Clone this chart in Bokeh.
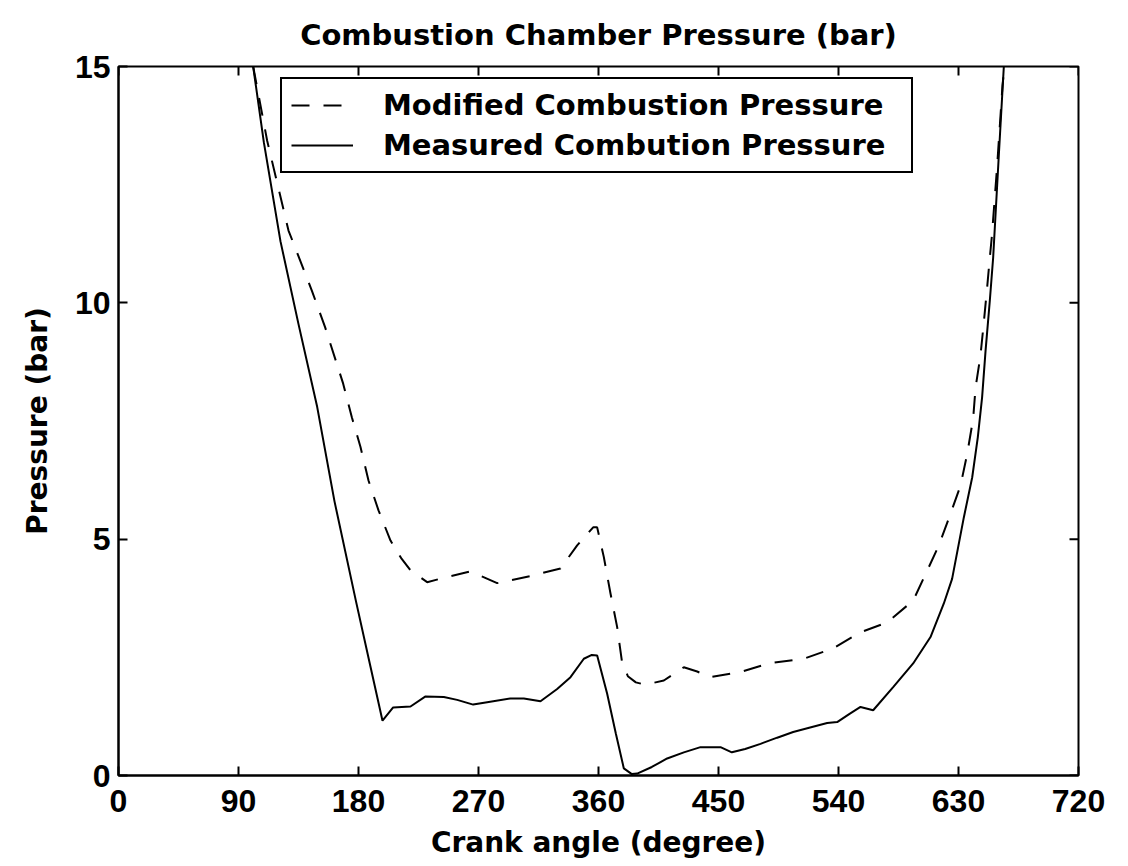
import math
from bokeh.plotting import figure
from bokeh.models import Range1d, FixedTicker, Legend, LegendItem
from bokeh.embed import file_html
from bokeh.resources import INLINE

# Measured combustion pressure (solid)
meas_deg = [101, 109, 121.5, 135, 149, 162, 178, 189, 198, 206, 219, 230, 244, 254, 266, 276.5,
            294, 304, 316.5, 329, 339, 349, 355, 359, 366.5, 373, 379, 385, 389, 400, 411.5,
            424, 436.5, 451.5, 460, 470, 481.5, 494, 506, 518, 531.5, 539, 548, 556.5, 566,
            581, 596, 609, 619, 625.2, 634, 640.3, 644.5, 647.7, 650.3, 653.5, 656, 660, 664]
meas_bar = [15.0, 13.4, 11.3, 9.55, 7.8, 5.8, 3.7, 2.3, 1.16, 1.44, 1.46, 1.67, 1.66, 1.60, 1.50, 1.55,
            1.63, 1.63, 1.57, 1.83, 2.08, 2.47, 2.55, 2.54, 1.73, 0.89, 0.15, 0.03, 0.04, 0.18, 0.36,
            0.49, 0.60, 0.60, 0.49, 0.56, 0.67, 0.80, 0.92, 1.01, 1.11, 1.13, 1.30, 1.45, 1.38,
            1.87, 2.37, 2.93, 3.64, 4.16, 5.46, 6.31, 7.16, 8.0, 8.99, 10.05, 10.96, 13.0, 15.0]

# Modified combustion pressure (dashed)
mod_deg = [101, 111.5, 127.5, 145, 155, 168.5, 175, 181.5, 187.5, 195, 204, 212, 219, 231.5,
           246.5, 264, 284, 309, 331.5, 344, 356, 359, 364, 369, 374, 377.5, 382, 388, 395,
           409, 424, 434, 444, 466.5, 489, 514, 536, 556.5, 576.5, 596, 605.3, 615.3, 623.5,
           631.5, 636.5, 641, 642.8, 646.5, 649, 651.5, 653.5, 655, 659, 663, 664.5]
mod_bar = [15.0, 13.43, 11.53, 10.26, 9.48, 8.29, 7.58, 6.95, 6.24, 5.61, 4.97, 4.6, 4.34, 4.09,
           4.20, 4.32, 4.07, 4.22, 4.38, 4.87, 5.25, 5.25, 4.62, 3.85, 3.14, 2.43, 2.1, 1.97, 1.92,
           2.01, 2.29, 2.2, 2.08, 2.19, 2.38, 2.47, 2.69, 3.03, 3.24, 3.70, 4.26, 4.87, 5.50,
           6.13, 6.8, 7.55, 8.21, 8.89, 9.59, 10.33, 10.96, 11.4, 12.9, 14.6, 15.0]

x_ticks = [0, 90, 180, 270, 360, 450, 540, 630, 720]
y_ticks = [0, 5, 10, 15]
x_min, x_max = 0, 720
y_min, y_max = 0, 15

title_text = "Combustion Chamber Pressure (bar)"
x_label = "Crank angle (degree)"
y_label = "Pressure (bar)"
mod_name = "Modified Combustion Pressure"
meas_name = "Measured Combution Pressure"

TXT_FONT = "DejaVu Sans"
TICK_FONT = "Liberation Sans"
TICK_LEN = 9

p = figure(frame_width=960, frame_height=709,
           x_range=Range1d(x_min, x_max), y_range=Range1d(y_min, y_max),
           output_backend="svg", toolbar_location=None,
           min_border_left=118, min_border_right=40, min_border_top=66, min_border_bottom=60,
           background_fill_color="white", border_fill_color="white")

p.title.text = title_text
p.title.align = "center"
p.title.text_font = TXT_FONT
p.title.text_font_size = "29px"
p.title.text_font_style = "bold"
p.title.text_color = "black"
p.title.text_line_height = 1.0
p.title.standoff = 29

p.xgrid.visible = False
p.ygrid.visible = False
p.outline_line_color = "black"
p.outline_line_width = 2
p.outline_line_alpha = 1.0

for ax, ticks in ((p.xaxis[0], x_ticks), (p.yaxis[0], y_ticks)):
    ax.ticker = FixedTicker(ticks=ticks)
    ax.axis_line_color = "black"
    ax.axis_line_width = 2
    ax.major_tick_in = TICK_LEN
    ax.major_tick_out = 0
    ax.major_tick_line_width = 2
    ax.major_tick_line_color = "black"
    ax.minor_tick_line_color = None
    ax.major_label_text_font = TICK_FONT
    ax.major_label_text_font_style = "bold"
    ax.major_label_text_color = "black"
    ax.major_label_text_font_size = "32px"
    ax.axis_label_text_font = TXT_FONT
    ax.axis_label_text_font_size = "28px"
    ax.axis_label_text_font_style = "bold"
    ax.axis_label_text_color = "black"

p.xaxis[0].major_label_standoff = 14
p.yaxis[0].major_label_standoff = 8
p.xaxis[0].axis_label = x_label
p.yaxis[0].axis_label = y_label
p.xaxis[0].axis_label_standoff = 11
p.yaxis[0].axis_label_standoff = 18

# inward ticks on the top and right frame edges
p.ray(x=x_ticks, y=[y_max] * len(x_ticks), length=TICK_LEN, length_units="screen",
      angle=-math.pi / 2, line_color="black", line_width=2)
p.ray(x=[x_max] * len(y_ticks), y=y_ticks, length=TICK_LEN, length_units="screen",
      angle=math.pi, line_color="black", line_width=2)

r_mod = p.line(mod_deg, mod_bar, line_color="black", line_width=2, line_dash="18 14")
r_meas = p.line(meas_deg, meas_bar, line_color="black", line_width=2)

legend = Legend(items=[LegendItem(label=mod_name, renderers=[r_mod]),
                       LegendItem(label=meas_name, renderers=[r_meas])],
                location=(162, 602))
legend.label_text_font = TXT_FONT
legend.label_text_font_size = "29px"
legend.label_text_font_style = "bold"
legend.label_text_color = "black"
legend.glyph_width = 62
legend.glyph_height = 34
legend.label_height = 34
legend.label_width = 519
legend.label_standoff = 30
legend.spacing = 6
legend.padding = 9
legend.margin = 0
legend.border_line_color = "black"
legend.border_line_alpha = 1.0
legend.border_line_width = 2
legend.background_fill_color = "white"
legend.background_fill_alpha = 1.0
p.add_layout(legend, "center")

open("out.html", "w").write(file_html(p, INLINE))
